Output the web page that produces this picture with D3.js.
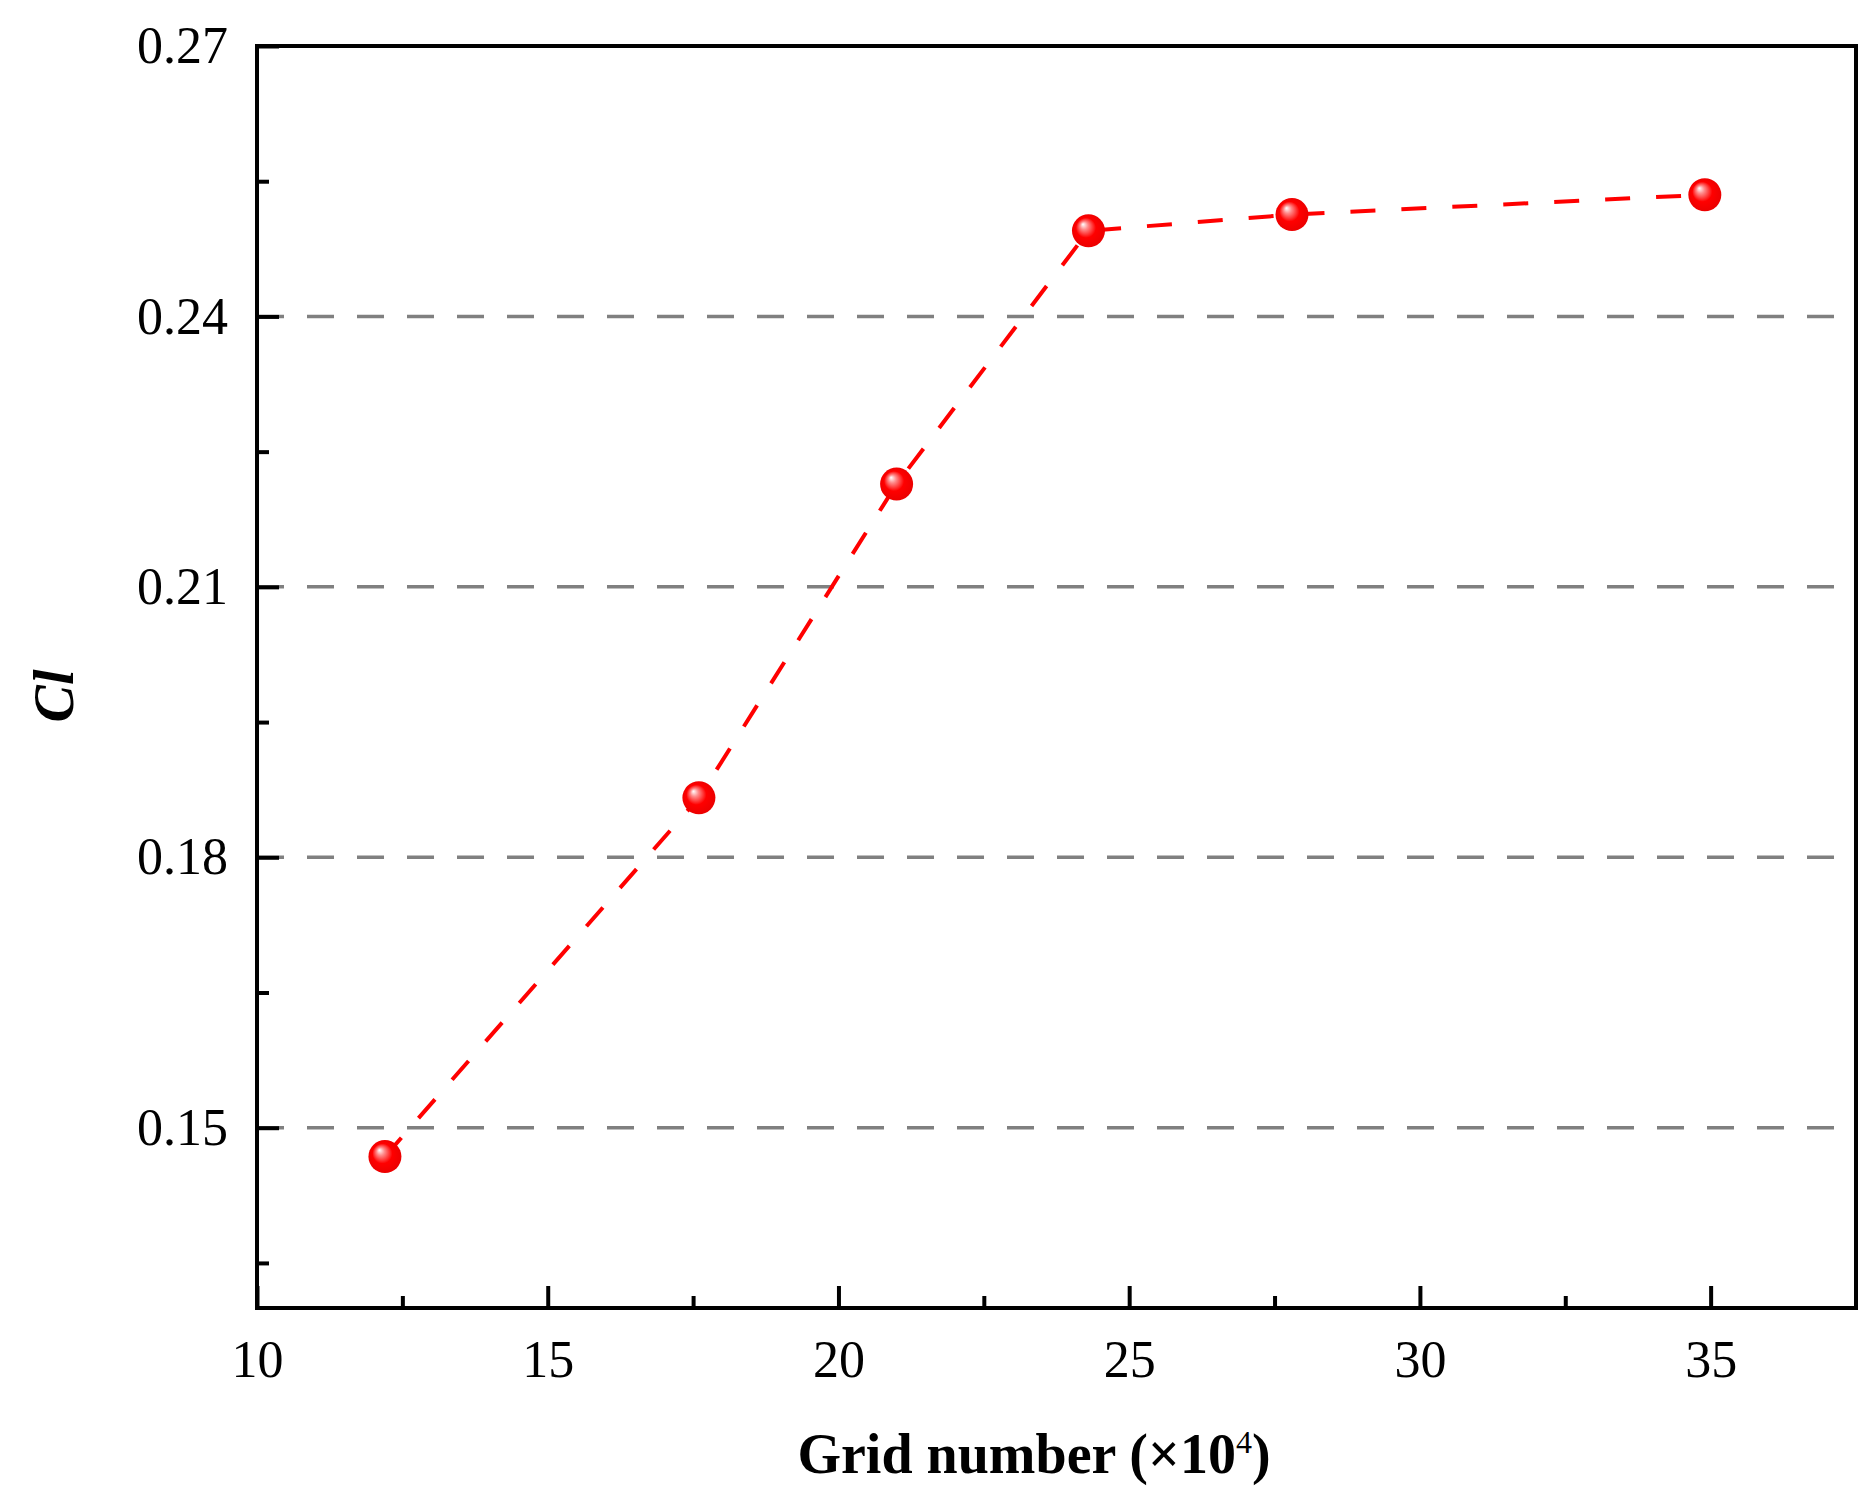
<!DOCTYPE html>
<html>
<head>
<meta charset="utf-8">
<script src="https://cdn.jsdelivr.net/npm/d3@7"></script>
<style>
  body { margin: 0; background: #fff; }
  text { font-family: "Liberation Serif", "Times New Roman", serif; }
</style>
</head>
<body>
<div id="chart"></div>
<script>

// data
var gridNumber = [12.2, 17.6, 21.0, 24.3, 27.8, 34.9];
var clValues   = [0.1468, 0.1866, 0.2214, 0.2495, 0.2513, 0.2535];
var xTicks     = [10, 15, 20, 25, 30, 35];
var xMinor     = [12.5, 17.5, 22.5, 27.5, 32.5];
var yTicks     = [0.15, 0.18, 0.21, 0.24, 0.27];
var yMinor     = [0.135, 0.165, 0.195, 0.225, 0.255];
var gridLevels = [0.15, 0.18, 0.21, 0.24];

// set the dimensions and margins of the graph
var margin = {top: 46, right: 17, bottom: 197, left: 257},
    width = 1873 - margin.left - margin.right,
    height = 1505 - margin.top - margin.bottom;

var svg = d3.select("#chart")
  .append("svg")
    .attr("width", 1873)
    .attr("height", 1505);

var g = svg.append("g")
    .attr("transform", "translate(" + margin.left + "," + margin.top + ")");

// gradient for the shiny ball markers
var grad = svg.append("defs").append("radialGradient")
    .attr("id", "ball")
    .attr("cx", "50%").attr("cy", "50%").attr("r", "55%")
    .attr("fx", "33%").attr("fy", "30%");
grad.append("stop").attr("offset", "0%").attr("stop-color", "#ffffff");
grad.append("stop").attr("offset", "22%").attr("stop-color", "#ff8a8a");
grad.append("stop").attr("offset", "55%").attr("stop-color", "#ff0000");
grad.append("stop").attr("offset", "100%").attr("stop-color", "#e80000");

var x = d3.scaleLinear()
  .domain([10, 37.5])
  .range([0, width]);

var y = d3.scaleLinear()
  .domain([0.13, 0.27])
  .range([height, 0]);

// horizontal dashed grid lines
g.selectAll(".grid")
  .data(gridLevels)
  .enter()
  .append("line")
    .attr("x1", 0)
    .attr("x2", width)
    .attr("y1", function(d) { return y(d); })
    .attr("y2", function(d) { return y(d); })
    .attr("stroke", "#808080")
    .attr("stroke-width", 3.5)
    .attr("stroke-dasharray", "27,23");

// dashed red line
var line = d3.line()
  .x(function(d, i) { return x(gridNumber[i]); })
  .y(function(d) { return y(d); });

g.append("path")
  .datum(clValues)
  .attr("d", line)
  .attr("fill", "none")
  .attr("stroke", "#ff0000")
  .attr("stroke-width", 4)
  .attr("stroke-dasharray", "25,26");

// markers
g.selectAll(".pt")
  .data(clValues)
  .enter()
  .append("circle")
    .attr("cx", function(d, i) { return x(gridNumber[i]); })
    .attr("cy", function(d) { return y(d); })
    .attr("r", 16.5)
    .attr("fill", "url(#ball)");

// X axis
var xAxis = g.append("g")
  .attr("transform", "translate(0," + height + ")")
  .call(d3.axisBottom(x).tickValues(xTicks).tickSize(-22).tickPadding(32).tickFormat(d3.format("d")));
xAxis.append("g")
  .call(d3.axisBottom(x).tickValues(xMinor).tickSize(-12).tickFormat(""));

// Y axis
var yAxis = g.append("g")
  .call(d3.axisLeft(y).tickValues(yTicks).tickSize(-22).tickPadding(29).tickFormat(d3.format(".2f")));
yAxis.append("g")
  .call(d3.axisLeft(y).tickValues(yMinor).tickSize(-12).tickFormat(""));

g.selectAll(".domain").remove();
g.selectAll(".tick line").attr("stroke", "#000").attr("stroke-width", 4);
g.selectAll(".tick text")
  .attr("font-family", "Liberation Serif, Times New Roman, serif")
  .attr("font-size", 52)
  .attr("fill", "#000");

// frame
g.append("rect")
  .attr("x", 0)
  .attr("y", 0)
  .attr("width", width)
  .attr("height", height)
  .attr("fill", "none")
  .attr("stroke", "#000")
  .attr("stroke-width", 4);

// axis titles
var xt = svg.append("text")
  .attr("x", 1034)
  .attr("y", 1473)
  .attr("text-anchor", "middle")
  .attr("font-size", 56)
  .attr("font-weight", "bold")
  .text("Grid number (\u00d710");
xt.append("tspan")
  .attr("font-size", 32)
  .attr("font-weight", "normal")
  .attr("dy", -20)
  .text("4");
xt.append("tspan")
  .attr("dy", 20)
  .text(")");

svg.append("text")
  .attr("transform", "translate(73,696) rotate(-90)")
  .attr("text-anchor", "middle")
  .attr("font-size", 56)
  .attr("font-weight", "bold")
  .attr("font-style", "italic")
  .text("Cl");

</script>
</body>
</html>
